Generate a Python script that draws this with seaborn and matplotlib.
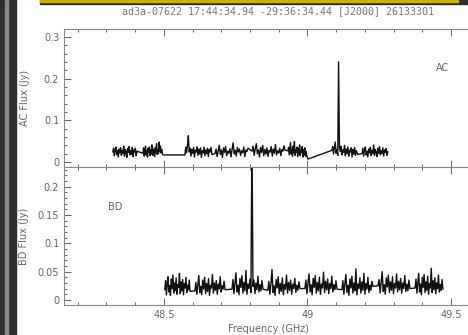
import numpy as np
import pandas as pd
import matplotlib
matplotlib.use('Agg')
import matplotlib.pyplot as plt
import matplotlib.ticker as mticker
from matplotlib.patches import Rectangle
import seaborn as sns

title = "ad3a-07622 17:44:34.94 -29:36:34.44 [J2000] 26133301"

# spectral windows (GHz), AC baseline
ac_lo = [48.322, 48.427, 48.573, 48.678, 48.807, 48.932, 49.085, 49.190]
ac_hi = [48.406, 48.497, 48.667, 48.793, 48.922, 49.002, 49.176, 49.280]
# flux per channel in mJy, AC
ac_mjy = [
    [24, 33, 15, 29, 36, 18, 27, 12, 31, 22, 34, 16, 28, 20, 38, 14, 30, 25, 11, 32, 23, 37, 17, 27, 19, 35, 13, 29, 24, 33, 15, 26],
    [21, 34, 14, 30, 38, 17, 26, 12, 33, 24, 36, 15, 29, 19, 41, 16, 31, 25, 13, 35, 22, 44, 18, 30, 20, 48, 26, 38, 22, 30, 19, 17],
    [17, 36, 22, 40, 63, 24, 33, 14, 30, 21, 35, 12, 28, 24, 37, 16, 31, 19, 34, 11, 27, 22, 36, 15, 29, 20, 33, 13, 30, 24, 35, 18],
    [20, 31, 13, 27, 40, 18, 29, 11, 34, 23, 37, 15, 26, 21, 32, 12, 30, 46, 19, 28, 14, 35, 24, 31, 16, 27, 22, 36, 13, 29, 25, 33],
    [26, 38, 16, 31, 44, 20, 29, 12, 35, 23, 40, 15, 30, 19, 34, 13, 28, 24, 37, 14, 31, 21, 42, 17, 27, 22, 33, 15, 30, 26, 39, 28],
    [27, 35, 17, 31, 47, 19, 30, 14, 38, 22, 49, 16, 29, 24, 36, 13, 33, 20, 41, 15, 28, 23, 37, 12, 30, 18, 34, 14, 25, 16, 11, 7],
    [28, 37, 19, 33, 48, 21, 30, 16, 240, 35, 25, 38, 17, 29, 23, 40, 15, 31, 20, 36, 14, 28, 24, 34, 12, 30, 19, 35, 16, 27, 22, 18],
    [20, 33, 14, 29, 36, 17, 26, 12, 31, 22, 35, 15, 28, 19, 41, 16, 30, 24, 13, 33, 21, 37, 17, 27, 20, 34, 14, 29, 23, 32, 16, 25],
]

# spectral windows (GHz), BD baseline
bd_lo = [48.503, 48.608, 48.737, 48.862, 48.991, 49.120, 49.246, 49.375]
bd_hi = [48.591, 48.713, 48.845, 48.974, 49.103, 49.228, 49.357, 49.472]
bd_mjy = [
    [18, 34, 9, 28, 41, 14, 25, 8, 37, 20, 44, 12, 30, 17, 39, 10, 27, 22, 47, 11, 32, 16, 36, 9, 29, 21, 40, 13, 26, 18, 35, 15],
    [16, 31, 10, 27, 43, 13, 24, 9, 35, 19, 40, 11, 29, 15, 38, 8, 26, 21, 45, 12, 30, 17, 34, 10, 28, 20, 41, 14, 25, 19, 33, 18],
    [19, 36, 11, 29, 48, 14, 26, 9, 38, 22, 43, 12, 31, 16, 52, 10, 28, 20, 37, 13, 300, 24, 35, 11, 30, 18, 42, 14, 27, 16, 34, 19],
    [17, 33, 10, 28, 54, 13, 25, 8, 36, 21, 41, 11, 29, 15, 39, 9, 27, 19, 44, 12, 31, 17, 35, 10, 28, 20, 38, 13, 26, 17, 32, 20],
    [20, 35, 11, 30, 46, 14, 27, 9, 38, 22, 43, 12, 31, 16, 40, 10, 28, 21, 49, 13, 33, 18, 37, 11, 29, 20, 42, 14, 27, 18, 34, 19],
    [18, 34, 10, 29, 45, 13, 26, 8, 37, 21, 42, 12, 30, 16, 55, 9, 28, 20, 39, 12, 32, 17, 47, 10, 29, 19, 40, 13, 26, 17, 33, 24],
    [25, 36, 12, 31, 50, 15, 27, 10, 39, 23, 44, 13, 32, 17, 41, 11, 29, 21, 46, 14, 33, 18, 38, 12, 30, 20, 43, 15, 28, 16, 35, 20],
    [21, 37, 12, 30, 47, 14, 28, 9, 40, 22, 45, 13, 32, 17, 42, 10, 29, 21, 56, 13, 34, 18, 39, 11, 30, 20, 44, 14, 27, 17, 36, 19],
]


def spectrum(lo, hi, vals):
    freq, flux = [], []
    for a, b, v in zip(lo, hi, vals):
        freq.extend(np.linspace(a, b, len(v)))
        flux.extend(np.array(v) / 1000.0)
    return pd.DataFrame({'freq': freq, 'flux': flux})


ac = spectrum(ac_lo, ac_hi, ac_mjy)
bd = spectrum(bd_lo, bd_hi, bd_mjy)

sns.set_style('ticks')
plt.rcParams['font.family'] = ['DejaVu Sans']
grey = '#666666'

fig = plt.figure(figsize=(4.68, 3.35), dpi=100)
W, H = 468.0, 335.0
x0, x1 = 64 / W, 472 / W
ax1 = fig.add_axes([x0, 1 - 167 / H, x1 - x0, (167 - 29) / H])
ax2 = fig.add_axes([x0, 1 - 305 / H, x1 - x0, (305 - 167) / H])

line_kw = dict(color='#111111', lw=1.0, estimator=None, sort=False)
sns.lineplot(data=ac, x='freq', y='flux', ax=ax1, **line_kw)
sns.lineplot(data=bd, x='freq', y='flux', ax=ax2, **line_kw)

xmin, xmax = 48.152, 48.5 + (472 - 164) / 287.0
ax1.set_xlim(xmin, xmax)
ax2.set_xlim(xmin, xmax)
ax1.set_ylim(-0.012, 0.319)
ax2.set_ylim(-0.009, 0.235)

fmt = mticker.FuncFormatter(lambda v, p: '%g' % round(v, 3))
for ax in (ax1, ax2):
    ax.xaxis.set_major_locator(mticker.MultipleLocator(0.5))
    ax.xaxis.set_minor_locator(mticker.MultipleLocator(0.1))
    ax.yaxis.set_major_formatter(fmt)
    ax.xaxis.set_major_formatter(fmt)
    ax.tick_params(which='both', direction='in', top=True, right=False,
                   colors=grey, labelsize=7, width=0.7)
    ax.tick_params(which='major', length=5)
    ax.tick_params(which='minor', length=2.5)
    for s in ax.spines.values():
        s.set_color('#888888')
        s.set_linewidth(0.8)

ax1.yaxis.set_major_locator(mticker.MultipleLocator(0.1))
ax1.yaxis.set_minor_locator(mticker.MultipleLocator(0.02))
ax2.yaxis.set_major_locator(mticker.MultipleLocator(0.05))
ax2.yaxis.set_minor_locator(mticker.MultipleLocator(0.01))
ax1.tick_params(labelbottom=False)

ax1.set_xlabel('')
ax1.set_ylabel('AC Flux (Jy)', color=grey, fontsize=7, labelpad=10)
ax2.set_ylabel('BD Flux (Jy)', color=grey, fontsize=7, labelpad=6)
ax2.set_xlabel('Frequency (GHz)', color=grey, fontsize=7, labelpad=3)

ax1.text(49.472, 0.226, 'AC', color=grey, fontsize=7, ha='center', va='center')
ax2.text(48.33, 0.165, 'BD', color=grey, fontsize=7, ha='center', va='center')

fig.text(278 / W, 1 - 11 / H, title, color='#777777', fontsize=7.2,
         family='DejaVu Sans Mono', ha='center', va='center')

# screenshot frame
fig.patches.append(Rectangle((0, 0), 16 / W, 1, transform=fig.transFigure,
                             color='#2e2e2e', zorder=5))
for xp in (5, 7):
    fig.patches.append(Rectangle((xp / W, 0), 1 / W, 1, transform=fig.transFigure,
                                 color='#8a8a8a', zorder=6))
fig.patches.append(Rectangle((40 / W, 1 - 4 / H), 1, 4 / H, transform=fig.transFigure,
                             color='#2e2e2e', zorder=5))
fig.patches.append(Rectangle((40 / W, 1 - 1.5 / H), 418 / W, 1.5 / H,
                             transform=fig.transFigure, color='#c8b400', zorder=6))

fig.savefig('out.png', dpi=100)
